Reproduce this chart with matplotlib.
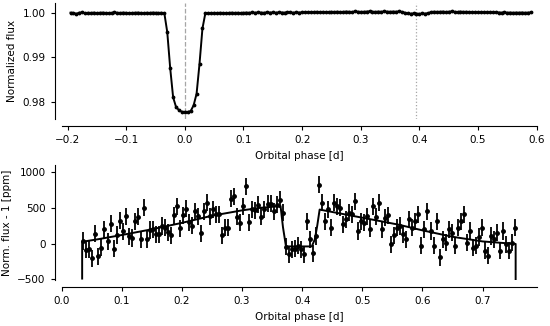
import numpy as np
import matplotlib
matplotlib.use("Agg")
import matplotlib.pyplot as plt

# ---- top panel: phase-folded transit (binned) ----
phase_top = np.round(np.arange(-0.195, 0.5901, 0.005), 3)

# out-of-transit scatter in ppm (transit bins filled below)
oot_ppm = [100, 60, -150, 120, 160, 0, 80, 40, 120, 0,
           80, 120, 40, 0, 80, 150, 80, 40, 120, 60,
           0, 40, 100, 120, 40, 0, 80, 40, 120, 80,
           40, 80, 0,
           0, 0, 0, 0, 0, 0, 0, 0, 0, 0, 0, 0, 0,
           0, 40, 0, 60, 20, 80, 40, 0, 60, 100, 40, 80, 20, 60,
           120, 80, 150, 100, 160, 120, 80, 180, 130, 150,
           100, 170, 140, 120, 200, 150, 100, 180, 140, 160,
           200, 250, 180, 260, 300, 220, 280, 250, 200, 300,
           260, 320, 250, 280, 350, 300, 260, 380, 320, 280,
           300, 350, 400, 320, 280, 350, 300, 380, 330, 300,
           350, 320, 380, 300,
           100, -80, -120, -60, -100, -150, -80, -100, 0,
           250, 320, 280, 300, 350, 260, 320, 380, 300, 260, 340, 280, 300,
           250, 220, 260, 200, 180, 220, 160, 200, 150, 180,
           140, 120, 160, 100, 130, 80, 120, 100, 140, 80, 120, 150]

transit_phase = [-0.03, -0.025, -0.02, -0.015, -0.01, -0.005, 0.0,
                 0.005, 0.01, 0.015, 0.02, 0.025, 0.03]
transit_flux = [0.99571, 0.98758, 0.9810, 0.9788, 0.9781, 0.97772, 0.9777,
                0.9777, 0.9779, 0.9792, 0.9818, 0.98856, 0.99653]

flux_top = 1.0 + np.array(oot_ppm[:len(phase_top)]) * 1e-6
for p, f in zip(transit_phase, transit_flux):
    flux_top[np.argmin(np.abs(phase_top - p))] = f

t_mid = 0.0
t_ecl = 0.395

# ---- bottom panel: phase curve residuals (binned) ----
phase_bot = np.linspace(0.036, 0.754, 144)
flux_bot = [36, -89, -80, -205, 140, -180, -60, 200, 30, 280,
            -70, 120, 320, 170, 380, 100, 78, 314, 375, 60,
            500, 60, 190, 200, 130, 130, 245, 222, 160, 115,
            393, 523,
            212, 393, 486, 300, 250, 453, 384, 143, 453, 569,
            384, 477, 407, 407, 115, 222, 222, 629, 661, 375,
            292, 523, 800, 300, 477, 467, 546, 375, 477, 556,
            556, 453, 546, 615, 431, -42, -148, -79, -70, -33,
            -79, -148, 314, 60, -139, 106, 824, 569, 314, 477,
            222, 569, 523, 500, 268, 338, 431, 407, 592, 176,
            314, 292, 384, 208, 523, 375, 569, 199, 361, 393,
            -9, 115, 222, 245, 129, 60, 338, 222, 314, 407,
            -33, 199, 453, 176, -33, 314, -194, 60, 14, 199,
            152, -33, 222, 314, 407, 14, 176, -56, -33, 92,
            222, -102, -171, 106, 60, 152, -102, 176, -9, -102,
            14, 222]
flux_bot_err = 120

model_phase = [0.034, 0.034, 0.06, 0.1, 0.15, 0.2, 0.25, 0.3, 0.33, 0.364,
               0.368, 0.373, 0.416, 0.421, 0.425, 0.429, 0.47, 0.52, 0.56,
               0.6, 0.65, 0.7, 0.755, 0.755]
model_ppm = [-490, 25, 60, 120, 200, 290, 390, 465, 500, 525,
             230, -40, -40, 60, 250, 476, 410, 330, 265,
             185, 95, 30, -5, -500]

fs = 7.5
plt.rcParams['font.size'] = fs

fig = plt.figure(figsize=(5.5, 3.26), dpi=100)
ax1 = fig.add_axes([0.1122, 0.635, 0.8636, 0.356])
ax2 = fig.add_axes([0.1122, 0.1411, 0.8636, 0.3528])

for ax in (ax1, ax2):
    ax.spines['top'].set_visible(False)
    ax.spines['right'].set_visible(False)
    ax.spines['left'].set_position(('outward', 5))
    ax.spines['bottom'].set_position(('outward', 5))
    ax.tick_params(length=3, width=0.8, labelsize=fs)

ax1.axvline(t_mid, color='0.65', ls='--', lw=0.9)
ax1.axvline(t_ecl, color='0.65', ls=':', lw=0.9)
ax1.plot(phase_top, flux_top, 'k-', lw=1.4)
ax1.plot(phase_top, flux_top, 'k.', ms=3.5)
ax1.set_xlim(-0.21, 0.60)
ax1.set_ylim(0.9761, 1.0023)
ax1.set_yticks([0.98, 0.99, 1.00])
ax1.set_xlabel('Orbital phase [d]', fontsize=fs)
ax1.set_ylabel('Normalized flux', fontsize=fs)

ax2.errorbar(phase_bot, flux_bot, yerr=flux_bot_err, fmt='o', color='k',
             ms=2.5, elinewidth=1.3, capsize=0)
ax2.plot(model_phase, model_ppm, 'k-', lw=1.4)
ax2.set_xlim(0, 0.79)
ax2.set_ylim(-510, 1100)
ax2.set_yticks([-500, 0, 500, 1000])
ax2.set_xticks(np.arange(0, 0.71, 0.1))
ax2.set_xlabel('Orbital phase [d]', fontsize=fs)
ax2.set_ylabel('Norm. flux - 1 [ppm]', fontsize=fs)

fig.savefig('out.png', dpi=100)
